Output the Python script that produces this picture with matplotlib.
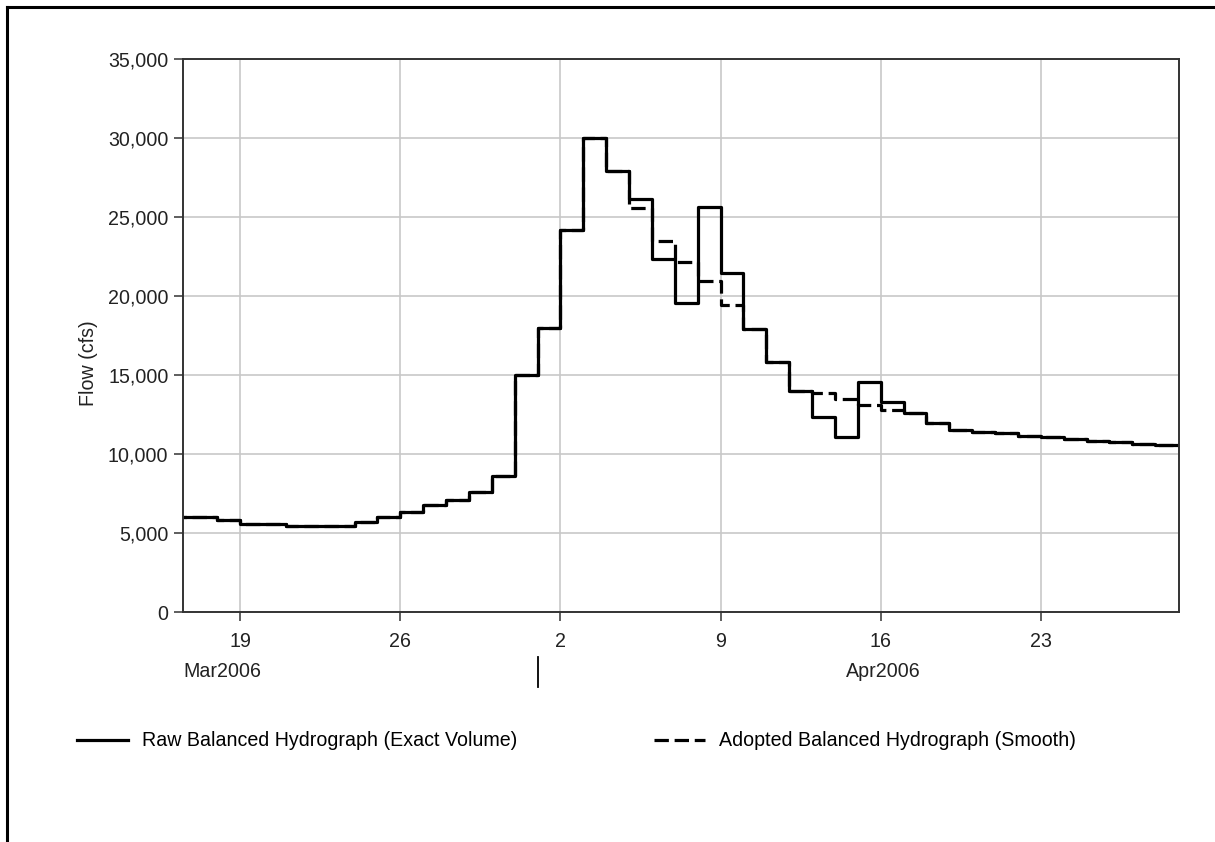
import matplotlib
matplotlib.use("Agg")
import matplotlib.pyplot as plt
import matplotlib.dates as mdates
from matplotlib.lines import Line2D
import numpy as np
from datetime import datetime, timedelta

plt.rcParams['font.family'] = ['Liberation Sans', 'DejaVu Sans']
plt.rcParams['font.size'] = 14.1

# daily flows (cfs), one value per day starting 16 Mar 2006
start_day = datetime(2006, 3, 16)
raw_flow = [6000, 6000, 5800, 5560, 5560, 5440, 5440, 5440, 5700, 6000,
            6350, 6750, 7100, 7600, 8600, 15000, 18000, 24200, 30000, 27900,
            26150, 22350, 19550, 25650, 21450, 17900, 15850, 14000, 12350, 11100,
            14550, 13300, 12600, 11950, 11550, 11400, 11300, 11150, 11050, 10950,
            10850, 10750, 10650, 10600]
adopted_flow = [6000, 6000, 5800, 5560, 5560, 5440, 5440, 5440, 5700, 6000,
                6350, 6750, 7100, 7600, 8600, 15000, 18000, 24200, 30000, 27900,
                25550, 23450, 22150, 20950, 19450, 17900, 15850, 14000, 13850, 13480,
                13100, 12760, 12600, 11950, 11550, 11400, 11300, 11150, 11050, 10950,
                10850, 10750, 10650, 10600]
tick_days = [datetime(2006, 3, 19) + timedelta(days=7 * k) for k in range(6)]
y_ticks = [0, 5000, 10000, 15000, 20000, 25000, 30000, 35000]

days = [start_day + timedelta(days=i) for i in range(len(raw_flow) + 1)]
raw_y = raw_flow + [raw_flow[-1]]
adp_y = adopted_flow + [adopted_flow[-1]]

fig = plt.figure(figsize=(12.15, 8.42), dpi=100)
ax = fig.add_axes([183 / 1215, 1 - 612 / 842, 996 / 1215, 553 / 842])

ax.plot(days, adp_y, drawstyle='steps-post', color='black', lw=2.3,
        linestyle=(0, (4.5, 1.8)), label='Adopted Balanced Hydrograph (Smooth)')
ax.plot(days, raw_y, drawstyle='steps-post', color='black', lw=2.3,
        label='Raw Balanced Hydrograph (Exact Volume)')

ax.set_xlim(datetime(2006, 3, 16, 12), datetime(2006, 4, 29, 1))
ax.set_ylim(0, 35000)
ax.set_yticks(y_ticks)
ax.set_yticklabels([f'{v:,}' for v in y_ticks])
ax.set_xticks(tick_days)
ax.set_xticklabels([str(d.day) for d in tick_days])

ax.grid(True, color='#c8c8c8', lw=1.2)
ax.set_axisbelow(True)
for s in ax.spines.values():
    s.set_color('#333333')
    s.set_linewidth(1.4)
ax.tick_params(direction='out', length=6.5, width=1.1, color='#333333',
               labelcolor='#222222')
ax.tick_params(axis='y', pad=4)
ax.tick_params(axis='x', pad=8)

# month labels and month separator
ax.text(0, -0.108, 'Mar2006', transform=ax.transAxes, ha='left', va='center',
        color='#222222')
trans = matplotlib.transforms.blended_transform_factory(ax.transData, ax.transAxes)
ax.text(mdates.date2num(datetime(2006, 4, 16, 3)), -0.108, 'Apr2006', transform=trans,
        ha='center', va='center', color='#222222')
ax.add_line(Line2D([mdates.date2num(datetime(2006, 4, 1))] * 2, [-0.081, -0.136],
                   transform=trans, color='black', lw=1.3, clip_on=False))

fig.text(88 / 1215, 1 - 363 / 842, 'Flow (cfs)', rotation=90, ha='center',
         va='center', color='#222222')

handles, labels = ax.get_legend_handles_labels()
fig.legend(handles[::-1], labels[::-1], loc='center left',
           bbox_to_anchor=(77 / 1215, 1 - 741 / 842), ncol=2, frameon=False,
           borderpad=0, borderaxespad=0, handlelength=2.6, handletextpad=0.7,
           columnspacing=7.0)

# outer frame (top and left edges)
fig.add_artist(Line2D([7 / 1215, 7 / 1215], [0, 1 - 7 / 842], color='black', lw=2.2))
fig.add_artist(Line2D([7 / 1215, 1], [1 - 7 / 842, 1 - 7 / 842], color='black', lw=2.2))

fig.savefig('out.png', dpi=100)
